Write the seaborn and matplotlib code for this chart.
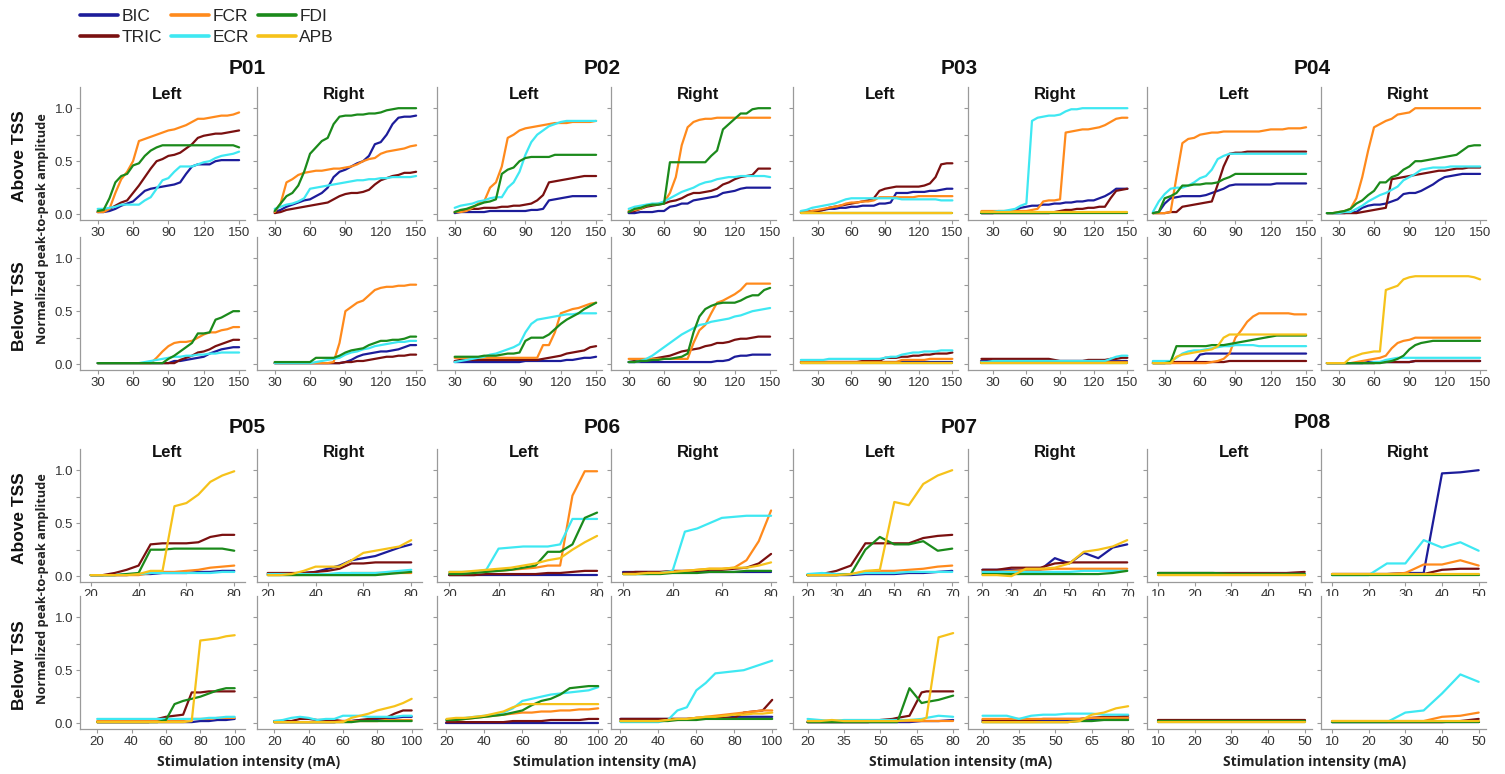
import matplotlib
matplotlib.use("Agg")
import matplotlib.pyplot as plt
from matplotlib.lines import Line2D
import pandas as pd
import seaborn as sns

# ---------------------------------------------------------------- data
MUSCLES = ["BIC", "TRIC", "FCR", "ECR", "FDI", "APB"]
COLORS = {"BIC": "#1c1c9a", "TRIC": "#7a1010", "FCR": "#ff8a1c",
          "ECR": "#3ee8f2", "FDI": "#1b8a1b", "APB": "#f6c21a"}

X_P01 = [30, 35, 40, 45, 50, 55, 60, 65, 70, 75, 80, 85, 90, 95, 100,
         105, 110, 115, 120, 125, 130, 135, 140, 145, 150]
X_P02 = [30, 35, 40, 45, 50, 55, 60, 65, 70, 75, 80, 85, 90, 95, 100,
         105, 110, 115, 120, 125, 130, 135, 140, 145, 150]
X_P03L = [15, 20, 25, 30, 35, 40, 45, 50, 55, 60, 65, 70, 75, 80, 85, 90, 95,
          100, 105, 110, 115, 120, 125, 130, 135, 140, 145, 150]
X_P03R = [20, 25, 30, 35, 40, 45, 50, 55, 60, 65, 70, 75, 80, 85, 90, 95,
          100, 105, 110, 115, 120, 125, 130, 135, 140, 145, 150]
X_P04 = [20, 25, 30, 35, 40, 45, 50, 55, 60, 65, 70, 75, 80, 85, 90, 95,
         100, 105, 110, 115, 120, 125, 130, 135, 140, 145, 150]
X_P05A = [20, 25, 30, 35, 40, 45, 50, 55, 60, 65, 70, 75, 80]
X_P05B = [20, 25, 30, 35, 40, 45, 50, 55, 60, 65, 70, 75, 80, 85, 90, 95, 100]
X_P06A = [20, 25, 30, 35, 40, 45, 50, 55, 60, 65, 70, 75, 80]
X_P06B = [20, 25, 30, 35, 40, 45, 50, 55, 60, 65, 70, 75, 80, 85, 90, 95, 100]
X_P07A = [20, 25, 30, 35, 40, 45, 50, 55, 60, 65, 70]
X_P07BL = [20, 25, 30, 35, 40, 45, 50, 55, 57, 62, 67, 69, 74, 80]
X_P07BR = [20, 25, 30, 35, 40, 45, 50, 55, 60, 65, 70, 75, 80]
X_P08 = [10, 15, 20, 25, 30, 35, 40, 45, 50]

P01_AL = {
    "BIC": [0.02, 0.02, 0.03, 0.05, 0.08, 0.10, 0.12, 0.17, 0.22, 0.24, 0.25, 0.26, 0.27,
            0.28, 0.30, 0.38, 0.45, 0.47, 0.47, 0.47, 0.50, 0.51, 0.51, 0.51, 0.51],
    "TRIC": [0.02, 0.03, 0.05, 0.08, 0.11, 0.13, 0.20, 0.27, 0.35, 0.43, 0.50, 0.52, 0.55,
             0.56, 0.58, 0.62, 0.66, 0.72, 0.74, 0.75, 0.76, 0.76, 0.77, 0.78, 0.79],
    "FCR": [0.02, 0.02, 0.05, 0.20, 0.33, 0.40, 0.50, 0.69, 0.71, 0.73, 0.75, 0.77, 0.79,
            0.80, 0.82, 0.84, 0.87, 0.90, 0.90, 0.91, 0.92, 0.93, 0.93, 0.94, 0.96],
    "ECR": [0.05, 0.05, 0.06, 0.07, 0.09, 0.09, 0.09, 0.09, 0.13, 0.16, 0.24, 0.32, 0.34,
            0.40, 0.45, 0.45, 0.45, 0.47, 0.49, 0.50, 0.53, 0.55, 0.56, 0.57, 0.59],
    "FDI": [0.03, 0.04, 0.15, 0.30, 0.36, 0.38, 0.46, 0.48, 0.55, 0.60, 0.63, 0.65, 0.65,
            0.65, 0.65, 0.65, 0.65, 0.65, 0.65, 0.65, 0.65, 0.65, 0.65, 0.65, 0.63],
}
P01_AR = {
    "BIC": [0.02, 0.04, 0.07, 0.09, 0.11, 0.13, 0.14, 0.17, 0.20, 0.25, 0.35, 0.40, 0.42,
            0.45, 0.48, 0.50, 0.55, 0.66, 0.68, 0.75, 0.85, 0.91, 0.92, 0.92, 0.93],
    "TRIC": [0.01, 0.02, 0.04, 0.05, 0.06, 0.07, 0.08, 0.09, 0.10, 0.11, 0.14, 0.17, 0.19,
             0.20, 0.20, 0.21, 0.23, 0.28, 0.32, 0.34, 0.36, 0.37, 0.39, 0.39, 0.40],
    "FCR": [0.02, 0.10, 0.30, 0.33, 0.37, 0.39, 0.40, 0.41, 0.41, 0.42, 0.43, 0.43, 0.44,
            0.45, 0.47, 0.50, 0.52, 0.53, 0.57, 0.59, 0.60, 0.61, 0.62, 0.64, 0.65],
    "ECR": [0.05, 0.07, 0.09, 0.10, 0.12, 0.15, 0.24, 0.25, 0.26, 0.27, 0.28, 0.29, 0.30,
            0.31, 0.32, 0.32, 0.33, 0.33, 0.34, 0.34, 0.35, 0.35, 0.35, 0.35, 0.36],
    "FDI": [0.03, 0.10, 0.17, 0.20, 0.27, 0.40, 0.57, 0.63, 0.69, 0.72, 0.85, 0.92, 0.93,
            0.93, 0.94, 0.94, 0.95, 0.95, 0.96, 0.98, 0.99, 1.00, 1.00, 1.00, 1.00],
}
P01_BL = {
    "BIC": [0.01, 0.01, 0.01, 0.01, 0.01, 0.01, 0.01, 0.01, 0.01, 0.01, 0.01, 0.01, 0.01,
            0.03, 0.03, 0.04, 0.05, 0.06, 0.07, 0.10, 0.12, 0.14, 0.15, 0.16, 0.16],
    "TRIC": [0.01, 0.01, 0.01, 0.01, 0.01, 0.01, 0.01, 0.01, 0.01, 0.01, 0.01, 0.01, 0.01,
             0.01, 0.04, 0.06, 0.08, 0.11, 0.12, 0.14, 0.17, 0.19, 0.21, 0.23, 0.23],
    "FCR": [0.01, 0.01, 0.01, 0.01, 0.01, 0.01, 0.01, 0.01, 0.01, 0.01, 0.06, 0.12, 0.17,
            0.20, 0.21, 0.21, 0.22, 0.25, 0.28, 0.30, 0.30, 0.32, 0.33, 0.35, 0.35],
    "ECR": [0.01, 0.01, 0.01, 0.01, 0.01, 0.01, 0.01, 0.01, 0.02, 0.03, 0.04, 0.05, 0.06,
            0.07, 0.07, 0.08, 0.08, 0.09, 0.09, 0.10, 0.10, 0.11, 0.11, 0.11, 0.11],
    "FDI": [0.01, 0.01, 0.01, 0.01, 0.01, 0.01, 0.01, 0.01, 0.01, 0.01, 0.01, 0.01, 0.05,
            0.08, 0.12, 0.16, 0.20, 0.29, 0.29, 0.30, 0.42, 0.44, 0.47, 0.50, 0.50],
}
P01_BR = {
    "BIC": [0.01, 0.01, 0.01, 0.01, 0.01, 0.01, 0.01, 0.01, 0.01, 0.01, 0.01, 0.01, 0.02,
            0.04, 0.07, 0.09, 0.10, 0.11, 0.12, 0.12, 0.13, 0.14, 0.16, 0.18, 0.18],
    "TRIC": [0.01, 0.01, 0.01, 0.01, 0.01, 0.01, 0.01, 0.01, 0.01, 0.01, 0.01, 0.01, 0.02,
             0.02, 0.03, 0.03, 0.04, 0.05, 0.06, 0.07, 0.07, 0.08, 0.08, 0.09, 0.09],
    "FCR": [0.01, 0.01, 0.01, 0.01, 0.01, 0.01, 0.01, 0.01, 0.01, 0.01, 0.02, 0.20, 0.50,
            0.54, 0.58, 0.60, 0.65, 0.70, 0.72, 0.73, 0.73, 0.74, 0.74, 0.75, 0.75],
    "ECR": [0.01, 0.01, 0.01, 0.01, 0.01, 0.01, 0.01, 0.02, 0.03, 0.04, 0.05, 0.06, 0.09,
            0.11, 0.12, 0.14, 0.15, 0.17, 0.18, 0.19, 0.20, 0.21, 0.21, 0.22, 0.22],
    "FDI": [0.02, 0.02, 0.02, 0.02, 0.02, 0.02, 0.02, 0.06, 0.06, 0.06, 0.06, 0.08, 0.11,
            0.13, 0.14, 0.15, 0.18, 0.20, 0.22, 0.22, 0.23, 0.23, 0.24, 0.26, 0.26],
}

P02_AL = {
    "BIC": [0.01, 0.02, 0.02, 0.02, 0.02, 0.02, 0.03, 0.03, 0.03, 0.03, 0.03, 0.03, 0.03,
            0.04, 0.04, 0.05, 0.13, 0.14, 0.15, 0.16, 0.17, 0.17, 0.17, 0.17, 0.17],
    "TRIC": [0.02, 0.03, 0.04, 0.05, 0.05, 0.06, 0.06, 0.06, 0.07, 0.07, 0.08, 0.08, 0.09,
             0.10, 0.13, 0.18, 0.30, 0.31, 0.32, 0.33, 0.34, 0.35, 0.36, 0.36, 0.36],
    "FCR": [0.02, 0.02, 0.03, 0.06, 0.10, 0.12, 0.25, 0.30, 0.45, 0.72, 0.75, 0.79, 0.81,
            0.82, 0.83, 0.84, 0.85, 0.86, 0.86, 0.86, 0.87, 0.87, 0.87, 0.87, 0.88],
    "ECR": [0.06, 0.08, 0.09, 0.10, 0.12, 0.13, 0.15, 0.16, 0.16, 0.25, 0.30, 0.40, 0.56,
            0.68, 0.75, 0.79, 0.83, 0.85, 0.87, 0.88, 0.88, 0.88, 0.88, 0.88, 0.88],
    "FDI": [0.02, 0.04, 0.05, 0.07, 0.09, 0.11, 0.12, 0.14, 0.38, 0.42, 0.44, 0.50, 0.53,
            0.54, 0.54, 0.54, 0.54, 0.56, 0.56, 0.56, 0.56, 0.56, 0.56, 0.56, 0.56],
}
P02_AR = {
    "BIC": [0.01, 0.01, 0.02, 0.02, 0.02, 0.03, 0.03, 0.07, 0.08, 0.10, 0.10, 0.13, 0.14,
            0.15, 0.16, 0.17, 0.20, 0.21, 0.22, 0.24, 0.25, 0.25, 0.25, 0.25, 0.25],
    "TRIC": [0.02, 0.03, 0.05, 0.07, 0.08, 0.09, 0.10, 0.12, 0.13, 0.15, 0.18, 0.20, 0.20,
             0.21, 0.22, 0.24, 0.28, 0.30, 0.33, 0.35, 0.36, 0.37, 0.43, 0.43, 0.43],
    "FCR": [0.03, 0.04, 0.05, 0.08, 0.09, 0.10, 0.11, 0.20, 0.35, 0.65, 0.82, 0.87, 0.89,
            0.90, 0.90, 0.91, 0.91, 0.91, 0.91, 0.91, 0.91, 0.91, 0.91, 0.91, 0.91],
    "ECR": [0.05, 0.07, 0.08, 0.09, 0.10, 0.10, 0.12, 0.15, 0.18, 0.21, 0.23, 0.25, 0.28,
            0.30, 0.31, 0.33, 0.34, 0.35, 0.35, 0.36, 0.36, 0.36, 0.36, 0.36, 0.35],
    "FDI": [0.02, 0.05, 0.06, 0.08, 0.09, 0.09, 0.10, 0.49, 0.49, 0.49, 0.49, 0.49, 0.49,
            0.49, 0.55, 0.60, 0.80, 0.85, 0.90, 0.95, 0.95, 0.99, 1.00, 1.00, 1.00],
}
P02_BL = {
    "BIC": [0.02, 0.02, 0.02, 0.02, 0.02, 0.02, 0.02, 0.02, 0.02, 0.02, 0.02, 0.02, 0.03,
            0.03, 0.03, 0.03, 0.03, 0.03, 0.03, 0.04, 0.04, 0.05, 0.06, 0.06, 0.07],
    "TRIC": [0.03, 0.04, 0.04, 0.04, 0.04, 0.04, 0.04, 0.04, 0.04, 0.04, 0.04, 0.04, 0.04,
             0.04, 0.04, 0.05, 0.06, 0.07, 0.08, 0.10, 0.11, 0.12, 0.13, 0.16, 0.17],
    "FCR": [0.06, 0.06, 0.06, 0.06, 0.06, 0.06, 0.06, 0.06, 0.06, 0.06, 0.06, 0.06, 0.06,
            0.06, 0.06, 0.18, 0.18, 0.30, 0.48, 0.50, 0.52, 0.53, 0.55, 0.57, 0.58],
    "ECR": [0.02, 0.03, 0.04, 0.05, 0.06, 0.07, 0.09, 0.10, 0.12, 0.14, 0.16, 0.19, 0.30,
            0.38, 0.42, 0.43, 0.44, 0.45, 0.46, 0.47, 0.47, 0.48, 0.48, 0.48, 0.48],
    "FDI": [0.07, 0.07, 0.07, 0.07, 0.07, 0.08, 0.08, 0.08, 0.09, 0.10, 0.10, 0.11, 0.22,
            0.25, 0.25, 0.25, 0.28, 0.33, 0.38, 0.42, 0.45, 0.48, 0.52, 0.55, 0.58],
}
P02_BR = {
    "BIC": [0.02, 0.02, 0.02, 0.02, 0.02, 0.02, 0.02, 0.02, 0.02, 0.02, 0.02, 0.02, 0.02,
            0.02, 0.02, 0.03, 0.03, 0.04, 0.07, 0.08, 0.08, 0.09, 0.09, 0.09, 0.09],
    "TRIC": [0.02, 0.03, 0.03, 0.04, 0.05, 0.06, 0.07, 0.08, 0.10, 0.12, 0.13, 0.14, 0.15,
             0.17, 0.18, 0.20, 0.20, 0.21, 0.23, 0.24, 0.24, 0.25, 0.26, 0.26, 0.26],
    "FCR": [0.05, 0.05, 0.05, 0.05, 0.05, 0.05, 0.05, 0.05, 0.05, 0.05, 0.05, 0.20, 0.32,
            0.37, 0.48, 0.58, 0.60, 0.63, 0.66, 0.70, 0.76, 0.76, 0.76, 0.76, 0.76],
    "ECR": [0.02, 0.02, 0.03, 0.05, 0.08, 0.12, 0.16, 0.20, 0.24, 0.28, 0.31, 0.34, 0.37,
            0.38, 0.40, 0.41, 0.42, 0.43, 0.45, 0.46, 0.48, 0.50, 0.51, 0.52, 0.53],
    "FDI": [0.02, 0.02, 0.03, 0.03, 0.04, 0.04, 0.05, 0.05, 0.06, 0.07, 0.10, 0.30, 0.45,
            0.52, 0.55, 0.57, 0.58, 0.58, 0.58, 0.60, 0.63, 0.65, 0.65, 0.70, 0.72],
}

P03_AL = {
    "BIC": [0.02, 0.02, 0.03, 0.03, 0.04, 0.05, 0.05, 0.06, 0.06, 0.07, 0.07, 0.08, 0.08, 0.08,
            0.10, 0.10, 0.11, 0.20, 0.20, 0.20, 0.21, 0.21, 0.21, 0.22, 0.22, 0.23, 0.24, 0.24],
    "TRIC": [0.02, 0.02, 0.03, 0.03, 0.04, 0.06, 0.07, 0.08, 0.09, 0.10, 0.11, 0.12, 0.13, 0.15,
             0.22, 0.24, 0.25, 0.26, 0.26, 0.26, 0.26, 0.26, 0.27, 0.29, 0.35, 0.47, 0.48, 0.48],
    "FCR": [0.02, 0.02, 0.03, 0.04, 0.05, 0.06, 0.07, 0.08, 0.10, 0.11, 0.11, 0.12, 0.12, 0.13,
            0.16, 0.16, 0.16, 0.16, 0.16, 0.16, 0.16, 0.17, 0.17, 0.17, 0.17, 0.17, 0.17, 0.17],
    "ECR": [0.03, 0.04, 0.06, 0.07, 0.08, 0.09, 0.10, 0.12, 0.14, 0.15, 0.15, 0.15, 0.15, 0.15,
            0.15, 0.15, 0.15, 0.15, 0.14, 0.14, 0.14, 0.14, 0.14, 0.14, 0.14, 0.13, 0.13, 0.13],
    "FDI": [0.01, 0.01, 0.01, 0.01, 0.01, 0.01, 0.01, 0.01, 0.01, 0.01, 0.01, 0.01, 0.01, 0.01,
            0.01, 0.01, 0.01, 0.01, 0.01, 0.01, 0.01, 0.01, 0.01, 0.01, 0.01, 0.01, 0.01, 0.01],
    "APB": [0.01, 0.01, 0.01, 0.01, 0.01, 0.01, 0.01, 0.01, 0.01, 0.01, 0.01, 0.01, 0.01, 0.01,
            0.01, 0.01, 0.01, 0.01, 0.01, 0.01, 0.01, 0.01, 0.01, 0.01, 0.01, 0.01, 0.01, 0.01],
}
P03_AR = {
    "BIC": [0.01, 0.01, 0.01, 0.02, 0.02, 0.03, 0.04, 0.06, 0.07, 0.08, 0.08, 0.09, 0.09, 0.10,
            0.10, 0.11, 0.11, 0.12, 0.12, 0.13, 0.13, 0.15, 0.17, 0.20, 0.24, 0.24, 0.24],
    "TRIC": [0.01, 0.01, 0.01, 0.01, 0.01, 0.01, 0.01, 0.01, 0.01, 0.01, 0.01, 0.01, 0.01, 0.02,
             0.03, 0.04, 0.04, 0.05, 0.05, 0.06, 0.06, 0.07, 0.07, 0.15, 0.22, 0.23, 0.24],
    "FCR": [0.03, 0.03, 0.03, 0.03, 0.03, 0.03, 0.03, 0.03, 0.03, 0.04, 0.05, 0.12, 0.13, 0.13,
            0.14, 0.77, 0.78, 0.79, 0.80, 0.80, 0.81, 0.82, 0.84, 0.87, 0.90, 0.91, 0.91],
    "ECR": [0.02, 0.02, 0.02, 0.03, 0.03, 0.04, 0.05, 0.08, 0.10, 0.88, 0.91, 0.92, 0.93, 0.93,
            0.94, 0.97, 0.99, 0.99, 1.00, 1.00, 1.00, 1.00, 1.00, 1.00, 1.00, 1.00, 1.00],
    "FDI": [0.01, 0.01, 0.01, 0.01, 0.01, 0.01, 0.01, 0.01, 0.01, 0.01, 0.01, 0.01, 0.01, 0.01,
            0.01, 0.01, 0.01, 0.01, 0.01, 0.01, 0.01, 0.01, 0.01, 0.01, 0.01, 0.01, 0.01],
    "APB": [0.02, 0.02, 0.02, 0.02, 0.02, 0.02, 0.02, 0.02, 0.02, 0.02, 0.02, 0.02, 0.02, 0.02,
            0.02, 0.02, 0.02, 0.02, 0.02, 0.02, 0.02, 0.02, 0.02, 0.02, 0.02, 0.02, 0.02],
}
P03_BL = {
    "BIC": [0.02, 0.02, 0.02, 0.02, 0.02, 0.02, 0.02, 0.02, 0.02, 0.02, 0.02, 0.02, 0.02, 0.02,
            0.02, 0.02, 0.02, 0.02, 0.02, 0.02, 0.02, 0.02, 0.02, 0.02, 0.02, 0.02, 0.02, 0.02],
    "TRIC": [0.02, 0.02, 0.02, 0.02, 0.02, 0.02, 0.02, 0.02, 0.02, 0.02, 0.02, 0.03, 0.03, 0.03,
             0.03, 0.06, 0.06, 0.06, 0.07, 0.07, 0.08, 0.08, 0.09, 0.09, 0.10, 0.10, 0.10, 0.11],
    "FCR": [0.02, 0.02, 0.02, 0.02, 0.02, 0.02, 0.02, 0.02, 0.02, 0.02, 0.02, 0.02, 0.02, 0.02,
            0.02, 0.02, 0.02, 0.02, 0.04, 0.04, 0.04, 0.04, 0.04, 0.05, 0.05, 0.05, 0.05, 0.05],
    "ECR": [0.04, 0.04, 0.04, 0.04, 0.04, 0.05, 0.05, 0.05, 0.05, 0.05, 0.05, 0.05, 0.05, 0.05,
            0.05, 0.06, 0.07, 0.07, 0.09, 0.10, 0.11, 0.11, 0.12, 0.12, 0.12, 0.13, 0.13, 0.13],
    "FDI": [0.01, 0.01, 0.01, 0.01, 0.01, 0.01, 0.01, 0.01, 0.01, 0.01, 0.01, 0.01, 0.01, 0.01,
            0.01, 0.01, 0.01, 0.01, 0.01, 0.01, 0.01, 0.01, 0.01, 0.01, 0.01, 0.01, 0.01, 0.01],
    "APB": [0.01, 0.01, 0.01, 0.01, 0.01, 0.01, 0.01, 0.01, 0.01, 0.01, 0.01, 0.01, 0.01, 0.01,
            0.01, 0.01, 0.01, 0.01, 0.01, 0.01, 0.01, 0.01, 0.01, 0.01, 0.01, 0.01, 0.01, 0.01],
}
P03_BR = {
    "BIC": [0.03, 0.03, 0.03, 0.03, 0.03, 0.03, 0.03, 0.03, 0.03, 0.03, 0.03, 0.03, 0.03, 0.03,
            0.03, 0.03, 0.03, 0.03, 0.03, 0.03, 0.03, 0.03, 0.03, 0.03, 0.03, 0.03, 0.03],
    "TRIC": [0.05, 0.05, 0.05, 0.05, 0.05, 0.05, 0.05, 0.05, 0.05, 0.05, 0.05, 0.05, 0.05, 0.04,
             0.03, 0.03, 0.03, 0.03, 0.03, 0.04, 0.04, 0.04, 0.04, 0.05, 0.05, 0.06, 0.06],
    "FCR": [0.02, 0.02, 0.02, 0.02, 0.02, 0.02, 0.02, 0.02, 0.02, 0.02, 0.02, 0.02, 0.02, 0.02,
            0.02, 0.02, 0.02, 0.02, 0.02, 0.02, 0.02, 0.02, 0.02, 0.02, 0.02, 0.02, 0.02],
    "ECR": [0.02, 0.02, 0.03, 0.03, 0.03, 0.03, 0.03, 0.03, 0.03, 0.03, 0.03, 0.03, 0.03, 0.03,
            0.03, 0.03, 0.03, 0.03, 0.03, 0.03, 0.03, 0.03, 0.03, 0.05, 0.07, 0.08, 0.08],
    "FDI": [0.01, 0.01, 0.01, 0.01, 0.01, 0.01, 0.01, 0.01, 0.01, 0.01, 0.01, 0.01, 0.01, 0.01,
            0.01, 0.01, 0.01, 0.01, 0.01, 0.01, 0.01, 0.01, 0.01, 0.01, 0.01, 0.01, 0.01],
    "APB": [0.01, 0.01, 0.01, 0.01, 0.01, 0.01, 0.01, 0.01, 0.01, 0.01, 0.01, 0.01, 0.01, 0.01,
            0.01, 0.01, 0.01, 0.01, 0.01, 0.01, 0.01, 0.01, 0.01, 0.01, 0.01, 0.01, 0.01],
}

P04_AL = {
    "BIC": [0.01, 0.02, 0.10, 0.15, 0.16, 0.17, 0.17, 0.17, 0.17, 0.18, 0.20, 0.22, 0.24, 0.27,
            0.28, 0.28, 0.28, 0.28, 0.28, 0.28, 0.28, 0.29, 0.29, 0.29, 0.29, 0.29, 0.29],
    "TRIC": [0.01, 0.01, 0.01, 0.02, 0.02, 0.07, 0.08, 0.09, 0.10, 0.11, 0.12, 0.28, 0.45, 0.57,
             0.58, 0.58, 0.59, 0.59, 0.59, 0.59, 0.59, 0.59, 0.59, 0.59, 0.59, 0.59, 0.59],
    "FCR": [0.01, 0.01, 0.01, 0.02, 0.35, 0.67, 0.71, 0.72, 0.75, 0.76, 0.77, 0.77, 0.78, 0.78,
            0.78, 0.78, 0.78, 0.78, 0.78, 0.79, 0.80, 0.80, 0.80, 0.81, 0.81, 0.81, 0.82],
    "ECR": [0.02, 0.12, 0.19, 0.24, 0.25, 0.25, 0.27, 0.30, 0.34, 0.36, 0.42, 0.52, 0.55, 0.57,
            0.57, 0.57, 0.57, 0.57, 0.57, 0.57, 0.57, 0.57, 0.57, 0.57, 0.57, 0.57, 0.57],
    "FDI": [0.01, 0.02, 0.15, 0.17, 0.20, 0.27, 0.27, 0.28, 0.28, 0.29, 0.29, 0.30, 0.33, 0.35,
            0.38, 0.38, 0.38, 0.38, 0.38, 0.38, 0.38, 0.38, 0.38, 0.38, 0.38, 0.38, 0.38],
}
P04_AR = {
    "BIC": [0.01, 0.01, 0.01, 0.01, 0.02, 0.02, 0.06, 0.08, 0.09, 0.09, 0.10, 0.12, 0.14, 0.19,
            0.20, 0.20, 0.22, 0.25, 0.28, 0.32, 0.35, 0.36, 0.37, 0.38, 0.38, 0.38, 0.38],
    "TRIC": [0.01, 0.01, 0.01, 0.01, 0.01, 0.01, 0.02, 0.03, 0.04, 0.05, 0.06, 0.33, 0.34, 0.35,
             0.36, 0.37, 0.38, 0.39, 0.40, 0.41, 0.41, 0.42, 0.43, 0.43, 0.44, 0.44, 0.44],
    "FCR": [0.01, 0.01, 0.02, 0.03, 0.05, 0.15, 0.35, 0.60, 0.82, 0.85, 0.88, 0.90, 0.94, 0.95,
            0.96, 1.00, 1.00, 1.00, 1.00, 1.00, 1.00, 1.00, 1.00, 1.00, 1.00, 1.00, 1.00],
    "ECR": [0.01, 0.01, 0.01, 0.02, 0.02, 0.05, 0.08, 0.12, 0.15, 0.18, 0.20, 0.23, 0.26, 0.32,
            0.35, 0.38, 0.42, 0.43, 0.44, 0.44, 0.44, 0.45, 0.45, 0.45, 0.45, 0.45, 0.45],
    "FDI": [0.01, 0.01, 0.02, 0.03, 0.05, 0.10, 0.13, 0.18, 0.22, 0.30, 0.30, 0.35, 0.37, 0.42,
            0.45, 0.50, 0.50, 0.51, 0.52, 0.53, 0.54, 0.55, 0.56, 0.60, 0.64, 0.65, 0.65],
}
P04_BL = {
    "BIC": [0.01, 0.01, 0.01, 0.01, 0.02, 0.02, 0.02, 0.02, 0.09, 0.10, 0.10, 0.10, 0.10, 0.10,
            0.10, 0.10, 0.10, 0.10, 0.10, 0.10, 0.10, 0.10, 0.10, 0.10, 0.10, 0.10, 0.10],
    "TRIC": [0.02, 0.02, 0.02, 0.02, 0.02, 0.02, 0.02, 0.02, 0.02, 0.02, 0.02, 0.02, 0.02, 0.03,
             0.03, 0.03, 0.03, 0.03, 0.03, 0.03, 0.03, 0.03, 0.03, 0.03, 0.03, 0.03, 0.03],
    "FCR": [0.01, 0.01, 0.01, 0.01, 0.01, 0.01, 0.01, 0.01, 0.01, 0.01, 0.02, 0.03, 0.05, 0.10,
            0.25, 0.32, 0.40, 0.45, 0.48, 0.48, 0.48, 0.48, 0.48, 0.48, 0.47, 0.47, 0.47],
    "ECR": [0.03, 0.03, 0.03, 0.03, 0.06, 0.10, 0.12, 0.13, 0.13, 0.14, 0.15, 0.16, 0.17, 0.17,
            0.18, 0.18, 0.18, 0.18, 0.17, 0.17, 0.17, 0.17, 0.17, 0.17, 0.17, 0.17, 0.17],
    "FDI": [0.01, 0.01, 0.01, 0.02, 0.17, 0.17, 0.17, 0.17, 0.17, 0.17, 0.18, 0.18, 0.18, 0.19,
            0.20, 0.21, 0.22, 0.23, 0.24, 0.25, 0.26, 0.27, 0.27, 0.27, 0.27, 0.27, 0.27],
    "APB": [0.01, 0.01, 0.01, 0.01, 0.07, 0.09, 0.10, 0.11, 0.12, 0.13, 0.14, 0.17, 0.25, 0.28,
            0.28, 0.28, 0.28, 0.28, 0.28, 0.28, 0.28, 0.28, 0.28, 0.28, 0.28, 0.28, 0.28],
}
P04_BR = {
    "BIC": [0.01, 0.01, 0.01, 0.01, 0.01, 0.01, 0.01, 0.02, 0.02, 0.02, 0.02, 0.02, 0.02, 0.02,
            0.02, 0.03, 0.03, 0.03, 0.03, 0.03, 0.03, 0.03, 0.03, 0.03, 0.03, 0.03, 0.03],
    "TRIC": [0.01, 0.01, 0.01, 0.01, 0.01, 0.01, 0.01, 0.01, 0.01, 0.02, 0.02, 0.02, 0.02, 0.02,
             0.02, 0.03, 0.03, 0.03, 0.03, 0.03, 0.03, 0.03, 0.03, 0.03, 0.03, 0.03, 0.03],
    "FCR": [0.01, 0.01, 0.01, 0.01, 0.01, 0.02, 0.03, 0.04, 0.05, 0.06, 0.08, 0.15, 0.20, 0.22,
            0.23, 0.25, 0.25, 0.25, 0.25, 0.25, 0.25, 0.25, 0.25, 0.25, 0.25, 0.25, 0.25],
    "ECR": [0.01, 0.01, 0.01, 0.01, 0.01, 0.01, 0.01, 0.01, 0.02, 0.02, 0.04, 0.05, 0.06, 0.06,
            0.06, 0.06, 0.06, 0.06, 0.06, 0.06, 0.06, 0.06, 0.06, 0.06, 0.06, 0.06, 0.06],
    "FDI": [0.01, 0.01, 0.01, 0.01, 0.01, 0.01, 0.01, 0.01, 0.01, 0.01, 0.02, 0.03, 0.05, 0.08,
            0.14, 0.18, 0.20, 0.21, 0.22, 0.22, 0.22, 0.22, 0.22, 0.22, 0.22, 0.22, 0.22],
    "APB": [0.01, 0.01, 0.01, 0.01, 0.06, 0.08, 0.10, 0.11, 0.12, 0.12, 0.70, 0.72, 0.74, 0.80,
            0.82, 0.83, 0.83, 0.83, 0.83, 0.83, 0.83, 0.83, 0.83, 0.83, 0.83, 0.82, 0.80],
}

P05_AL = {
    "BIC": [0.01, 0.01, 0.01, 0.01, 0.02, 0.02, 0.03, 0.03, 0.03, 0.04, 0.04, 0.05, 0.05],
    "TRIC": [0.01, 0.01, 0.03, 0.06, 0.10, 0.30, 0.31, 0.31, 0.31, 0.32, 0.37, 0.39, 0.39],
    "FCR": [0.01, 0.01, 0.01, 0.01, 0.01, 0.03, 0.04, 0.04, 0.05, 0.06, 0.08, 0.09, 0.10],
    "ECR": [0.01, 0.01, 0.01, 0.02, 0.02, 0.03, 0.03, 0.03, 0.03, 0.03, 0.03, 0.04, 0.04],
    "FDI": [0.01, 0.01, 0.01, 0.02, 0.03, 0.25, 0.25, 0.26, 0.26, 0.26, 0.26, 0.26, 0.24],
    "APB": [0.01, 0.01, 0.01, 0.01, 0.02, 0.05, 0.05, 0.66, 0.69, 0.77, 0.89, 0.95, 0.99],
}
P05_AR = {
    "BIC": [0.02, 0.02, 0.02, 0.03, 0.04, 0.07, 0.10, 0.15, 0.17, 0.19, 0.23, 0.27, 0.30],
    "TRIC": [0.03, 0.03, 0.03, 0.03, 0.04, 0.05, 0.07, 0.12, 0.12, 0.13, 0.13, 0.13, 0.13],
    "FCR": [0.02, 0.02, 0.02, 0.02, 0.02, 0.02, 0.02, 0.03, 0.03, 0.03, 0.03, 0.03, 0.03],
    "ECR": [0.02, 0.02, 0.02, 0.02, 0.02, 0.02, 0.03, 0.03, 0.03, 0.03, 0.04, 0.05, 0.06],
    "FDI": [0.01, 0.01, 0.01, 0.01, 0.01, 0.01, 0.01, 0.01, 0.01, 0.01, 0.02, 0.03, 0.04],
    "APB": [0.01, 0.01, 0.02, 0.05, 0.09, 0.09, 0.09, 0.15, 0.22, 0.24, 0.26, 0.28, 0.34],
}
P05_BL = {
    "BIC": [0.01, 0.01, 0.01, 0.01, 0.01, 0.01, 0.01, 0.01, 0.01, 0.01, 0.01, 0.01, 0.02,
            0.02, 0.03, 0.03, 0.04],
    "TRIC": [0.01, 0.01, 0.01, 0.01, 0.01, 0.01, 0.01, 0.04, 0.06, 0.07, 0.08, 0.29, 0.29,
             0.30, 0.30, 0.30, 0.30],
    "FCR": [0.02, 0.02, 0.02, 0.02, 0.02, 0.02, 0.02, 0.02, 0.03, 0.03, 0.03, 0.04, 0.04,
            0.04, 0.05, 0.05, 0.05],
    "ECR": [0.04, 0.04, 0.04, 0.04, 0.04, 0.04, 0.04, 0.04, 0.04, 0.04, 0.04, 0.04, 0.04,
            0.05, 0.05, 0.06, 0.06],
    "FDI": [0.01, 0.01, 0.01, 0.01, 0.01, 0.01, 0.01, 0.01, 0.03, 0.18, 0.21, 0.23, 0.25,
            0.28, 0.31, 0.33, 0.33],
    "APB": [0.01, 0.01, 0.01, 0.01, 0.01, 0.01, 0.01, 0.01, 0.01, 0.01, 0.01, 0.02, 0.78,
            0.79, 0.80, 0.82, 0.83],
}
P05_BR = {
    "BIC": [0.01, 0.01, 0.01, 0.01, 0.01, 0.01, 0.01, 0.01, 0.02, 0.02, 0.03, 0.03, 0.04,
            0.04, 0.05, 0.06, 0.06],
    "TRIC": [0.02, 0.02, 0.02, 0.04, 0.04, 0.03, 0.03, 0.03, 0.02, 0.02, 0.03, 0.04, 0.05,
             0.05, 0.09, 0.12, 0.12],
    "FCR": [0.01, 0.01, 0.01, 0.01, 0.01, 0.01, 0.01, 0.01, 0.02, 0.02, 0.02, 0.02, 0.02,
            0.03, 0.03, 0.03, 0.03],
    "ECR": [0.02, 0.03, 0.05, 0.06, 0.05, 0.03, 0.04, 0.04, 0.07, 0.07, 0.07, 0.06, 0.06,
            0.06, 0.06, 0.07, 0.07],
    "FDI": [0.01, 0.01, 0.01, 0.01, 0.01, 0.01, 0.01, 0.01, 0.01, 0.01, 0.02, 0.02, 0.02,
            0.02, 0.02, 0.02, 0.02],
    "APB": [0.01, 0.01, 0.01, 0.01, 0.01, 0.01, 0.01, 0.01, 0.01, 0.05, 0.07, 0.09, 0.12,
            0.14, 0.16, 0.19, 0.23],
}

P06_AL = {
    "BIC": [0.01, 0.01, 0.01, 0.01, 0.01, 0.01, 0.01, 0.01, 0.01, 0.01, 0.01, 0.01, 0.01],
    "TRIC": [0.01, 0.01, 0.01, 0.02, 0.02, 0.02, 0.02, 0.02, 0.03, 0.03, 0.04, 0.05, 0.05],
    "FCR": [0.03, 0.03, 0.03, 0.05, 0.05, 0.06, 0.07, 0.08, 0.10, 0.10, 0.76, 0.99, 0.99],
    "ECR": [0.04, 0.04, 0.04, 0.06, 0.26, 0.27, 0.28, 0.28, 0.28, 0.30, 0.54, 0.54, 0.54],
    "FDI": [0.02, 0.02, 0.03, 0.04, 0.05, 0.06, 0.08, 0.10, 0.23, 0.23, 0.30, 0.55, 0.60],
    "APB": [0.04, 0.04, 0.05, 0.06, 0.07, 0.08, 0.10, 0.12, 0.15, 0.17, 0.25, 0.32, 0.38],
}
P06_AR = {
    "BIC": [0.04, 0.04, 0.04, 0.04, 0.04, 0.04, 0.04, 0.04, 0.04, 0.04, 0.04, 0.04, 0.04],
    "TRIC": [0.03, 0.04, 0.04, 0.04, 0.05, 0.05, 0.05, 0.06, 0.06, 0.07, 0.08, 0.12, 0.21],
    "FCR": [0.02, 0.02, 0.03, 0.03, 0.04, 0.05, 0.06, 0.07, 0.07, 0.08, 0.15, 0.33, 0.62],
    "ECR": [0.02, 0.02, 0.02, 0.03, 0.05, 0.42, 0.45, 0.50, 0.55, 0.56, 0.57, 0.57, 0.57],
    "FDI": [0.02, 0.02, 0.02, 0.02, 0.03, 0.03, 0.03, 0.04, 0.04, 0.04, 0.05, 0.05, 0.05],
    "APB": [0.02, 0.02, 0.03, 0.03, 0.04, 0.05, 0.06, 0.07, 0.07, 0.08, 0.08, 0.10, 0.13],
}
P06_BL = {
    "BIC": [0.00, 0.00, 0.00, 0.00, 0.00, 0.00, 0.00, 0.00, 0.00, 0.00, 0.00, 0.00, 0.00,
            0.00, 0.00, 0.00, 0.00],
    "TRIC": [0.01, 0.01, 0.01, 0.01, 0.01, 0.01, 0.01, 0.02, 0.02, 0.02, 0.02, 0.03, 0.03,
             0.03, 0.03, 0.04, 0.04],
    "FCR": [0.03, 0.03, 0.04, 0.05, 0.06, 0.07, 0.08, 0.09, 0.10, 0.10, 0.11, 0.11, 0.12,
            0.12, 0.13, 0.13, 0.14],
    "ECR": [0.03, 0.04, 0.05, 0.06, 0.07, 0.08, 0.10, 0.14, 0.21, 0.23, 0.25, 0.27, 0.28,
            0.29, 0.30, 0.31, 0.34],
    "FDI": [0.03, 0.03, 0.04, 0.05, 0.06, 0.07, 0.08, 0.10, 0.12, 0.17, 0.21, 0.23, 0.27,
            0.33, 0.34, 0.35, 0.35],
    "APB": [0.04, 0.05, 0.05, 0.06, 0.07, 0.09, 0.11, 0.15, 0.18, 0.18, 0.18, 0.18, 0.18,
            0.18, 0.18, 0.18, 0.18],
}
P06_BR = {
    "BIC": [0.04, 0.04, 0.04, 0.04, 0.04, 0.04, 0.04, 0.04, 0.04, 0.05, 0.05, 0.05, 0.06,
            0.06, 0.06, 0.06, 0.06],
    "TRIC": [0.04, 0.04, 0.04, 0.04, 0.04, 0.04, 0.04, 0.04, 0.05, 0.05, 0.05, 0.05, 0.05,
             0.10, 0.11, 0.12, 0.22],
    "FCR": [0.02, 0.02, 0.02, 0.02, 0.02, 0.03, 0.03, 0.04, 0.05, 0.06, 0.07, 0.08, 0.09,
            0.10, 0.11, 0.12, 0.12],
    "ECR": [0.01, 0.01, 0.01, 0.01, 0.01, 0.03, 0.12, 0.15, 0.31, 0.38, 0.47, 0.48, 0.49,
            0.50, 0.53, 0.56, 0.59],
    "FDI": [0.02, 0.02, 0.02, 0.02, 0.02, 0.02, 0.03, 0.03, 0.03, 0.04, 0.04, 0.04, 0.04,
            0.04, 0.04, 0.04, 0.04],
    "APB": [0.02, 0.02, 0.02, 0.02, 0.02, 0.03, 0.04, 0.04, 0.05, 0.06, 0.06, 0.07, 0.08,
            0.08, 0.09, 0.09, 0.10],
}

P07_AL = {
    "BIC": [0.01, 0.01, 0.01, 0.01, 0.02, 0.02, 0.02, 0.03, 0.03, 0.04, 0.05],
    "TRIC": [0.01, 0.02, 0.05, 0.10, 0.31, 0.31, 0.31, 0.31, 0.36, 0.38, 0.39],
    "FCR": [0.01, 0.01, 0.01, 0.02, 0.04, 0.05, 0.05, 0.06, 0.07, 0.09, 0.10],
    "ECR": [0.02, 0.03, 0.02, 0.02, 0.03, 0.03, 0.03, 0.04, 0.04, 0.04, 0.04],
    "FDI": [0.01, 0.01, 0.01, 0.02, 0.25, 0.37, 0.30, 0.30, 0.33, 0.24, 0.26],
    "APB": [0.01, 0.01, 0.01, 0.02, 0.05, 0.06, 0.70, 0.67, 0.87, 0.95, 1.00],
}
P07_AR = {
    "BIC": [0.06, 0.06, 0.06, 0.06, 0.06, 0.17, 0.12, 0.22, 0.17, 0.27, 0.30],
    "TRIC": [0.06, 0.06, 0.08, 0.08, 0.08, 0.12, 0.13, 0.13, 0.13, 0.13, 0.13],
    "FCR": [0.04, 0.04, 0.05, 0.06, 0.06, 0.07, 0.07, 0.07, 0.07, 0.07, 0.07],
    "ECR": [0.04, 0.04, 0.04, 0.04, 0.04, 0.04, 0.04, 0.05, 0.05, 0.05, 0.05],
    "FDI": [0.02, 0.02, 0.02, 0.02, 0.02, 0.02, 0.02, 0.02, 0.02, 0.03, 0.05],
    "APB": [0.01, 0.01, 0.00, 0.07, 0.07, 0.08, 0.12, 0.23, 0.25, 0.28, 0.34],
}
P07_BL = {
    "BIC": [0.01, 0.01, 0.01, 0.01, 0.01, 0.01, 0.01, 0.01, 0.01, 0.01, 0.02, 0.02, 0.02, 0.03],
    "TRIC": [0.01, 0.01, 0.01, 0.01, 0.01, 0.01, 0.03, 0.04, 0.05, 0.07, 0.29, 0.30, 0.30, 0.30],
    "FCR": [0.02, 0.02, 0.02, 0.02, 0.02, 0.02, 0.02, 0.02, 0.02, 0.02, 0.02, 0.02, 0.02, 0.02],
    "ECR": [0.04, 0.03, 0.02, 0.03, 0.03, 0.03, 0.03, 0.03, 0.03, 0.03, 0.04, 0.05, 0.07, 0.06],
    "FDI": [0.01, 0.01, 0.01, 0.01, 0.01, 0.01, 0.01, 0.01, 0.01, 0.33, 0.19, 0.20, 0.22, 0.26],
    "APB": [0.02, 0.02, 0.03, 0.02, 0.02, 0.02, 0.02, 0.02, 0.02, 0.03, 0.03, 0.05, 0.81, 0.85],
}
P07_BR = {
    "BIC": [0.02, 0.02, 0.02, 0.02, 0.02, 0.02, 0.02, 0.03, 0.03, 0.04, 0.04, 0.05, 0.05],
    "TRIC": [0.03, 0.03, 0.03, 0.03, 0.03, 0.04, 0.04, 0.04, 0.04, 0.05, 0.06, 0.06, 0.07],
    "FCR": [0.04, 0.04, 0.04, 0.04, 0.04, 0.04, 0.04, 0.04, 0.04, 0.05, 0.05, 0.05, 0.05],
    "ECR": [0.07, 0.07, 0.07, 0.04, 0.07, 0.08, 0.08, 0.09, 0.09, 0.09, 0.08, 0.08, 0.08],
    "FDI": [0.01, 0.01, 0.01, 0.01, 0.01, 0.01, 0.01, 0.01, 0.02, 0.02, 0.03, 0.03, 0.03],
    "APB": [0.01, 0.01, 0.01, 0.01, 0.01, 0.01, 0.01, 0.01, 0.02, 0.08, 0.10, 0.14, 0.16],
}

P08_AL = {
    "BIC": [0.02, 0.02, 0.02, 0.02, 0.02, 0.02, 0.02, 0.02, 0.02],
    "TRIC": [0.03, 0.03, 0.03, 0.03, 0.03, 0.03, 0.03, 0.03, 0.04],
    "FCR": [0.01, 0.01, 0.01, 0.01, 0.01, 0.01, 0.01, 0.01, 0.01],
    "ECR": [0.02, 0.02, 0.02, 0.02, 0.02, 0.02, 0.02, 0.02, 0.02],
    "FDI": [0.03, 0.03, 0.03, 0.03, 0.02, 0.02, 0.02, 0.02, 0.02],
    "APB": [0.01, 0.01, 0.01, 0.01, 0.01, 0.01, 0.01, 0.01, 0.01],
}
P08_AR = {
    "BIC": [0.02, 0.02, 0.02, 0.02, 0.03, 0.03, 0.97, 0.98, 1.00],
    "TRIC": [0.02, 0.02, 0.02, 0.02, 0.02, 0.02, 0.06, 0.07, 0.07],
    "FCR": [0.02, 0.02, 0.02, 0.02, 0.03, 0.11, 0.11, 0.15, 0.10],
    "ECR": [0.01, 0.01, 0.01, 0.12, 0.12, 0.34, 0.27, 0.32, 0.24],
    "FDI": [0.01, 0.01, 0.01, 0.01, 0.01, 0.01, 0.01, 0.01, 0.01],
    "APB": [0.02, 0.02, 0.02, 0.02, 0.02, 0.02, 0.02, 0.02, 0.02],
}
P08_BL = {
    "BIC": [0.02, 0.02, 0.02, 0.02, 0.02, 0.02, 0.02, 0.02, 0.02],
    "TRIC": [0.03, 0.03, 0.03, 0.03, 0.03, 0.03, 0.03, 0.03, 0.03],
    "FCR": [0.01, 0.01, 0.01, 0.01, 0.01, 0.01, 0.01, 0.01, 0.01],
    "ECR": [0.01, 0.01, 0.01, 0.01, 0.01, 0.01, 0.01, 0.01, 0.01],
    "FDI": [0.02, 0.02, 0.02, 0.02, 0.02, 0.02, 0.02, 0.02, 0.02],
    "APB": [0.01, 0.01, 0.01, 0.01, 0.01, 0.01, 0.01, 0.01, 0.01],
}
P08_BR = {
    "BIC": [0.01, 0.01, 0.01, 0.01, 0.01, 0.01, 0.01, 0.01, 0.01],
    "TRIC": [0.01, 0.01, 0.01, 0.01, 0.01, 0.01, 0.01, 0.02, 0.04],
    "FCR": [0.02, 0.02, 0.02, 0.02, 0.02, 0.02, 0.06, 0.07, 0.10],
    "ECR": [0.01, 0.01, 0.01, 0.01, 0.10, 0.12, 0.28, 0.46, 0.39],
    "FDI": [0.01, 0.01, 0.01, 0.01, 0.01, 0.01, 0.01, 0.01, 0.01],
    "APB": [0.02, 0.02, 0.02, 0.02, 0.02, 0.02, 0.02, 0.02, 0.02],
}

PARTICIPANTS = ["P01", "P02", "P03", "P04", "P05", "P06", "P07", "P08"]
XTICKS_ABOVE = [[30, 60, 90, 120, 150]] * 4 + [[20, 40, 60, 80], [20, 40, 60, 80],
                                               [20, 30, 40, 50, 60, 70], [10, 20, 30, 40, 50]]
XTICKS_BELOW = [[30, 60, 90, 120, 150]] * 4 + [[20, 40, 60, 80, 100], [20, 40, 60, 80, 100],
                                               [20, 35, 50, 65, 80], [10, 20, 30, 40, 50]]

# (participant, stage, side) -> (x values, series)
PANELS = {
    ("P01", 0, 0): (X_P01, P01_AL), ("P01", 0, 1): (X_P01, P01_AR),
    ("P01", 1, 0): (X_P01, P01_BL), ("P01", 1, 1): (X_P01, P01_BR),
    ("P02", 0, 0): (X_P02, P02_AL), ("P02", 0, 1): (X_P02, P02_AR),
    ("P02", 1, 0): (X_P02, P02_BL), ("P02", 1, 1): (X_P02, P02_BR),
    ("P03", 0, 0): (X_P03L, P03_AL), ("P03", 0, 1): (X_P03R, P03_AR),
    ("P03", 1, 0): (X_P03L, P03_BL), ("P03", 1, 1): (X_P03R, P03_BR),
    ("P04", 0, 0): (X_P04, P04_AL), ("P04", 0, 1): (X_P04, P04_AR),
    ("P04", 1, 0): (X_P04, P04_BL), ("P04", 1, 1): (X_P04, P04_BR),
    ("P05", 0, 0): (X_P05A, P05_AL), ("P05", 0, 1): (X_P05A, P05_AR),
    ("P05", 1, 0): (X_P05B, P05_BL), ("P05", 1, 1): (X_P05B, P05_BR),
    ("P06", 0, 0): (X_P06A, P06_AL), ("P06", 0, 1): (X_P06A, P06_AR),
    ("P06", 1, 0): (X_P06B, P06_BL), ("P06", 1, 1): (X_P06B, P06_BR),
    ("P07", 0, 0): (X_P07A, P07_AL), ("P07", 0, 1): (X_P07A, P07_AR),
    ("P07", 1, 0): (X_P07BL, P07_BL), ("P07", 1, 1): (X_P07BR, P07_BR),
    ("P08", 0, 0): (X_P08, P08_AL), ("P08", 0, 1): (X_P08, P08_AR),
    ("P08", 1, 0): (X_P08, P08_BL), ("P08", 1, 1): (X_P08, P08_BR),
}

# ---------------------------------------------------------------- layout
XLIM_ABOVE = {"P01": (15, 155), "P02": (15, 155), "P03": (8, 155), "P04": (15, 155),
              "P05": (15.5, 84.5), "P06": (15, 82), "P07": (15, 72), "P08": (7, 52)}
XLIM_BELOW = {"P01": (15, 155), "P02": (15, 155), "P03": (8, 155), "P04": (15, 155),
              "P05": (10, 106), "P06": (15, 102), "P07": (14, 82), "P08": (7, 52)}

sns.set_theme(style="ticks")
plt.rcParams["font.family"] = ["Liberation Sans", "DejaVu Sans"]

W, H = 1505, 774
fig = plt.figure(figsize=(W / 100, H / 100), dpi=100)
fig.patch.set_facecolor("white")

COL_LEFT = [80, 257, 437, 611, 793, 968, 1147, 1321]
AX_W = 165
ROWS = [(87, 220), (237, 370), (449, 582), (596, 729)]
SPINE = "#9a9a9a"


def px_x(v):
    return v / W


def px_y(v):
    return 1 - v / H


for pi, name in enumerate(PARTICIPANTS):
    half, pair = divmod(pi, 4)
    for stage in (0, 1):
        row = half * 2 + stage
        top, bot = ROWS[row]
        for side in (0, 1):
            col = pair * 2 + side
            ax = fig.add_axes([px_x(COL_LEFT[col]), px_y(bot), AX_W / W, (bot - top) / H])
            xs, series = PANELS[(name, stage, side)]
            recs = []
            for m in MUSCLES:
                if m in series:
                    for xv, yv in zip(xs, series[m]):
                        recs.append({"x": xv, "y": yv, "muscle": m})
            df = pd.DataFrame(recs)
            order = [m for m in MUSCLES if m in series]
            sns.lineplot(data=df, x="x", y="y", hue="muscle", hue_order=order,
                         palette=COLORS, estimator=None, sort=False, linewidth=1.6,
                         legend=False, ax=ax)
            ax.set_xlim(*(XLIM_ABOVE[name] if stage == 0 else XLIM_BELOW[name]))
            ax.set_ylim(-0.055, 1.2)
            ax.set_xticks(XTICKS_ABOVE[pi] if stage == 0 else XTICKS_BELOW[pi])
            ax.set_yticks([0, 0.25, 0.5, 0.75, 1.0])
            if col == 0:
                ax.set_yticklabels(["0.0", "", "0.5", "", "1.0"])
            else:
                ax.set_yticklabels([])
            ax.set_xlabel("")
            ax.set_ylabel("")
            for s in ("top", "right"):
                ax.spines[s].set_visible(False)
            for s in ("left", "bottom"):
                ax.spines[s].set_color(SPINE)
                ax.spines[s].set_linewidth(0.9)
            ax.tick_params(axis="both", length=3, width=0.8, color=SPINE,
                           labelsize=9.5, labelcolor="#333333", pad=2)
            ax.set_facecolor("white")
            if stage == 0:
                ty = 0.947 if half == 0 else 0.975
                ax.text(0.53, ty, "Left" if side == 0 else "Right", transform=ax.transAxes,
                        ha="center", va="center", fontsize=12, fontweight="bold",
                        color="#111111")

    # participant title
    cx = (COL_LEFT[pair * 2] + COL_LEFT[pair * 2 + 1] + AX_W) / 2 - 4
    ty = 68 if half == 0 else (422 if name == "P08" else 428)
    fig.text(px_x(cx), px_y(ty), name, ha="center", va="center",
             fontsize=15, fontweight="bold", color="#111111")
    if half == 1:
        fig.text(px_x(cx + 2), px_y(762), "Stimulation intensity (mA)", ha="center",
                 va="center", fontsize=10, fontweight="bold", color="#222222",
                 family=["Open Sans", "DejaVu Sans"])

# row labels
for row, label in enumerate(["Above TSS", "Below TSS", "Above TSS", "Below TSS"]):
    top, bot = ROWS[row]
    fig.text(px_x(20), px_y((top + bot) / 2 + 3), label, rotation=90, ha="center",
             va="center", fontsize=12.5, fontweight="bold", color="#111111")
for yc in (229, 589):
    fig.text(px_x(43), px_y(yc), "Normalized peak-to-peak amplitude", rotation=90,
             ha="center", va="center", fontsize=9.2, fontweight="bold", color="#222222",
             family=["Open Sans", "DejaVu Sans"])

# legend
handles = [Line2D([0], [0], color=COLORS[m], lw=2.6) for m in MUSCLES]
fig.legend(handles, MUSCLES, loc="upper left", bbox_to_anchor=(px_x(80), px_y(9)),
           ncol=3, frameon=False, borderaxespad=0, borderpad=0, fontsize=12.5,
           handlelength=2.2, handletextpad=0.2, columnspacing=0.5, labelspacing=0.32)

fig.savefig("out.png", dpi=100, facecolor="white")
